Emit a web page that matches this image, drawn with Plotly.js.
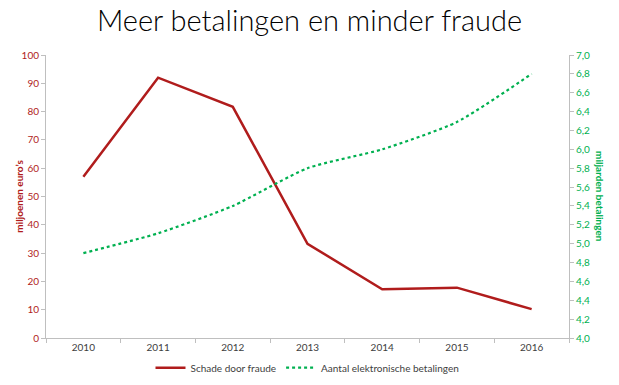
<!DOCTYPE html>
<html><head><meta charset="utf-8">
<script src="https://cdn.plot.ly/plotly-3.0.1.min.js"></script>
<style>body{margin:0;padding:0;background:#fff}#c{width:619px;height:385px}</style>
</head><body><div id="c"></div>
<script>
const years = ['2010','2011','2012','2013','2014','2015','2016'];
const schade = [57, 92, 81.7, 33.3, 17.2, 17.8, 10.2];
const betalingen = [4.9, 5.11, 5.4, 5.8, 6.0, 6.29, 6.8];
const leftTicks = [0,10,20,30,40,50,60,70,80,90,100];
const rightTicks = [4.0,4.2,4.4,4.6,4.8,5.0,5.2,5.4,5.6,5.8,6.0,6.2,6.4,6.6,6.8,7.0];

const red = '#b01c1c', green = '#00b050';
const traces = [
  {x: years, y: schade, type:'scatter', mode:'lines', name:'Schade door fraude',
   line:{color:red, width:2.5}, yaxis:'y'},
  {x: years, y: betalingen, type:'scatter', mode:'lines', name:'Aantal elektronische betalingen',
   line:{color:green, width:2.2, dash:'dot', shape:'spline', smoothing:0.6}, yaxis:'y2'}
];
const layout = {
  width:619, height:385,
  margin:{l:46, r:50, t:55, b:47, autoexpand:false},
  paper_bgcolor:'#fff', plot_bgcolor:'#fff',
  font:{family:'Lato, "Open Sans", sans-serif', size:10, color:'#404040'},
  title:{text:'Meer betalingen en minder fraude', x:0.5, xanchor:'center', y:0.972, yanchor:'top',
         font:{family:'Lato, "Open Sans", sans-serif', size:29, weight:300, color:'#000'}},
  showlegend:true,
  legend:{orientation:'h', x:0.5, xanchor:'center', xref:'paper', yref:'container', y:0.045, yanchor:'middle',
          font:{size:10, color:'#404040'}},
  xaxis:{type:'category', range:[-0.5,6.5], showline:true, linecolor:'#bfbfbf', linewidth:1,
         ticks:'outside', tickson:'boundaries', ticklen:4, tickcolor:'#bfbfbf', showgrid:false,
         tickfont:{size:10, color:'#404040'}},
  yaxis:{range:[0,100], tickvals:leftTicks, showline:true, linecolor:'#bfbfbf', ticks:'outside', ticklen:4,
         tickcolor:'#bfbfbf', showgrid:false, zeroline:false, tickfont:{size:10, color:red}},
  yaxis2:{range:[4,7], tickvals:rightTicks, ticktext:rightTicks.map(v=>v.toFixed(1).replace('.',',')),
          overlaying:'y', side:'right', showline:true, linecolor:'#bfbfbf', ticks:'outside', ticklen:4,
          tickcolor:'#bfbfbf', showgrid:false, zeroline:false, tickfont:{size:10, color:green}},
  annotations:[
    {text:'<b>miljoenen euro\u2019s</b>', xref:'paper', yref:'paper', x:-0.053, y:0.5, textangle:-90,
     showarrow:false, xanchor:'center', yanchor:'middle', font:{size:10, color:red}},
    {text:'<b>miljarden betalingen</b>', xref:'paper', yref:'paper', x:1.06, y:0.5, textangle:90,
     showarrow:false, xanchor:'center', yanchor:'middle', font:{size:10, color:green}}
  ]
};
Plotly.newPlot('c', traces, layout, {displayModeBar:false, staticPlot:true});
</script></body></html>
